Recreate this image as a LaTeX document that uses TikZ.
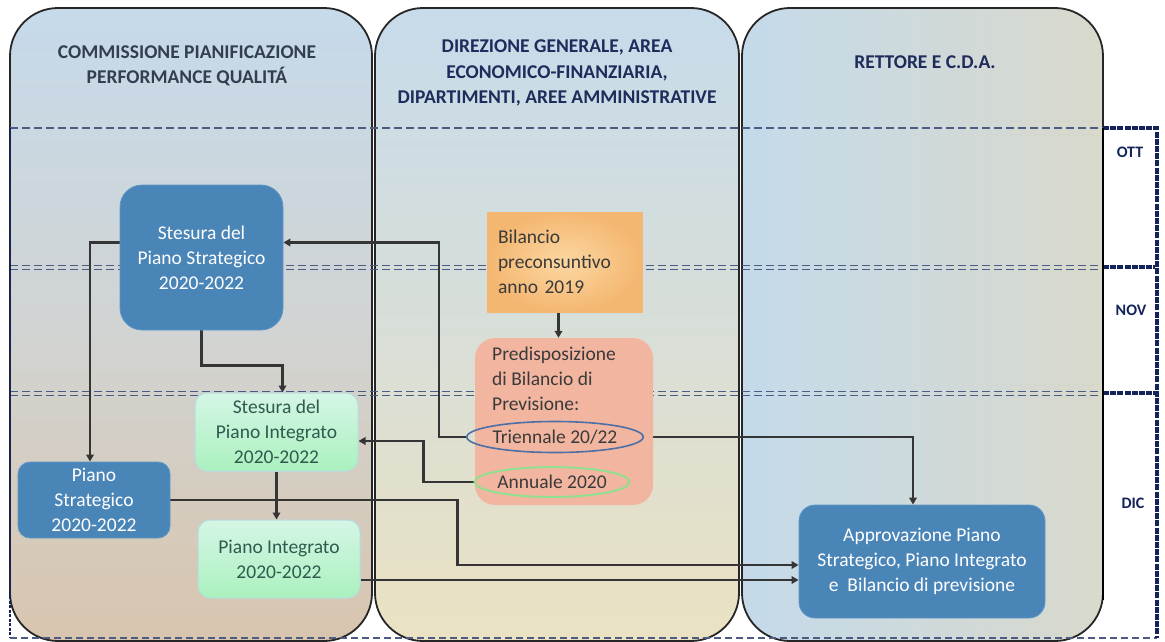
\documentclass[tikz,border=0pt]{standalone}
\usepackage{fontspec}
\setmainfont{Carlito}
\usetikzlibrary{shapes.geometric,arrows.meta,calc}
\pgfdeclarelayer{cols}
\pgfdeclarelayer{conns}
\pgfsetlayers{cols,conns,main}
\definecolor{steel}{HTML}{4A85B8}
\definecolor{steeledge}{HTML}{5E96C6}
\definecolor{connc}{HTML}{353535}
\definecolor{dashc}{HTML}{4B5B82}
\definecolor{navy}{HTML}{14245A}
\definecolor{hdrA}{HTML}{333F50}
\definecolor{hdrB}{HTML}{1F2B5B}
\definecolor{cAt}{HTML}{C6DAEA}
\definecolor{cAm}{HTML}{D1D4D3}
\definecolor{cAb}{HTML}{D8C5AE}
\definecolor{cBt}{HTML}{C7DBEA}
\definecolor{cBm}{HTML}{D8DED8}
\definecolor{cBb}{HTML}{EAE2C2}
\definecolor{cCl}{HTML}{C4DAEA}
\definecolor{cCr}{HTML}{D9D9CC}
\definecolor{orgin}{HTML}{FCD7A2}
\definecolor{orgout}{HTML}{F4B771}
\definecolor{salmon}{HTML}{F2B5A0}
\definecolor{grnt}{HTML}{D4F6E6}
\definecolor{grnb}{HTML}{ABF1BE}
\definecolor{grnedge}{HTML}{B4DCE0}
\definecolor{grntext}{HTML}{2F5A4E}
\definecolor{ellblue}{HTML}{4D6FA8}
\definecolor{ellgreen}{HTML}{8FE08F}
\definecolor{darktext}{HTML}{3A3A3A}
\begin{document}
\begin{tikzpicture}[x=1pt,y=-1pt,
  colshape/.style={draw=black!85, line width=1.8pt, rounded corners=48pt},
  rowdash/.style={draw=dashc, line width=1.9pt, dash pattern=on 8pt off 4pt},
  frame/.style={draw=navy, line width=3.2pt, dash pattern=on 6pt off 1.2pt},
  hdr/.style={font=\fontsize{19.5}{25.5}\selectfont\bfseries, align=center},
  month/.style={font=\fontsize{16}{18}\selectfont\bfseries, text=navy},
  mtext/.style={font=\fontsize{19.5}{25}\selectfont},
  bluebox/.style={rectangle, rounded corners=14pt, fill=steel, draw=steeledge, line width=0.8pt, text=white, mtext, align=center, inner sep=0pt},
  greenbox/.style={rectangle, rounded corners=12pt, top color=grnt, bottom color=grnb, draw=grnedge, line width=1pt, text=grntext, mtext, align=center, inner sep=0pt},
  dtext/.style={mtext, text=darktext},
  conn/.style={draw=connc, line width=2.4pt},
  arr/.style={conn, -{Triangle[length=7pt,width=7.5pt]}}
]
\useasboundingbox (0,0) rectangle (1165,641);

% ---------- nodes ----------
\node[bluebox, rounded corners=22pt, minimum width=163pt, minimum height=145pt] (sps) at (201.5,257.5) {Stesura del\\Piano Strategico\\2020-2022};
\node[rectangle, inner color=orgin, outer color=orgout, draw=orgout, line width=0.8pt, minimum width=155pt, minimum height=100pt, text width=133pt, inner xsep=11pt, align=left, dtext] (bil) at (564.5,262) {Bilancio\\preconsuntivo\\anno 2019};
\node[rectangle, rounded corners=20pt, fill=salmon, minimum width=178pt, minimum height=167pt, inner sep=0pt] (pred) at (564,421.5) {};
\node[dtext, anchor=west, align=left, inner sep=0pt] (predt) at (492,379) {Predisposizione\\di Bilancio di\\Previsione:};
\node[ellipse, draw=ellblue, line width=1.6pt, minimum width=150pt, minimum height=31pt, inner sep=0pt, dtext] (tri) at (555,437) {Triennale 20/22};
\node[ellipse, draw=ellgreen, line width=2pt, minimum width=152pt, minimum height=30pt, inner sep=0pt, dtext] (ann) at (552,482) {Annuale 2020};
\node[greenbox, minimum width=163pt, minimum height=78pt] (spi) at (276.5,432) {Stesura del\\Piano Integrato\\2020-2022};
\node[bluebox, rounded corners=12pt, minimum width=152pt, minimum height=76pt] (ps) at (94,500) {Piano\\Strategico\\2020-2022};
\node[greenbox, minimum width=162pt, minimum height=78pt] (pi) at (279,559) {Piano Integrato\\2020-2022};
\node[bluebox, rounded corners=16pt, minimum width=246pt, minimum height=113pt] (app) at (922,561.5) {Approvazione Piano\\Strategico, Piano Integrato\\e\ \ Bilancio di previsione};

% ---------- headers ----------
\node[hdr, text=hdrA] (h1) at (187,66) {COMMISSIONE PIANIFICAZIONE\\PERFORMANCE QUALITÁ};
\node[hdr, text=hdrB] (h2) at (557,73) {DIREZIONE GENERALE, AREA\\ECONOMICO-FINANZIARIA,\\DIPARTIMENTI, AREE AMMINISTRATIVE};
\node[hdr, text=hdrB] (h3) at (925,62) {RETTORE E C.D.A.};

% ---------- months ----------
\node[month] (m1) at (1130,152) {OTT};
\node[month] (m2) at (1131,310) {NOV};
\node[month] (m3) at (1133,503) {DIC};

% ---------- columns, rows, frame ----------
\begin{pgfonlayer}{cols}
\draw[colshape, top color=cAt, bottom color=cAb, middle color=cAm] (10,8) rectangle (372,641);
\draw[colshape, top color=cBt, bottom color=cBb, middle color=cBm] (375,8) rectangle (739,641);
\draw[colshape, left color=cCl, right color=cCr] (742,8) rectangle (1103,641);
\draw[rowdash] (10,128) -- (1103,128);
\draw[rowdash] (10,265.5) -- (1103,265.5);
\draw[rowdash] (10,269.5) -- (1103,269.5);
\draw[rowdash] (10,391.5) -- (1103,391.5);
\draw[rowdash] (10,395.5) -- (1103,395.5);
\draw[draw=navy, line width=2.2pt, dash pattern=on 3pt off 1.5pt] (10,128) -- (10,638);
\draw[draw=dashc, line width=2.4pt, dash pattern=on 7pt off 4pt] (10,638) -- (1157,638);
\draw[frame] (1103,128) -- (1157,128) -- (1157,638);
\draw[frame] (1103,267) -- (1155,267);
\draw[frame] (1103,393) -- (1155,393);
\draw[draw=black, line width=2pt] (1103,128) -- (1103,600);
\end{pgfonlayer}

% ---------- connectors ----------
\begin{pgfonlayer}{conns}
\draw[arr] (tri.west) -- ++(-27,0) |- ($(sps.east)+(0,-15)$);
\draw[arr] (tri.east) -| ($(app.north)+(-9,0)$);
\draw[arr] (ann.west) -- ++(-50,0) |- ($(spi.east)+(0,9)$);
\draw[arr] (sps.south) |- ($(spi.north)+(6,-27)$) -- ($(spi.north)+(6,0)$);
\draw[arr] ($(sps.west)+(0,-15)$) -| ($(ps.north)+(-4,0)$);
\draw[arr] (spi.south) -- (spi.south |- pi.north);
\draw[arr] (ps.east) -- ++(287,0) |- ($(app.west)+(0,3.5)$);
\draw[arr] ($(pi.east)+(0,21)$) -- ($(app.west)+(0,18.5)$);
\draw[arr] ($(bil.south)+(-6,0)$) coordinate (bs) -- (bs |- pred.north);
\end{pgfonlayer}
\end{tikzpicture}
\end{document}
